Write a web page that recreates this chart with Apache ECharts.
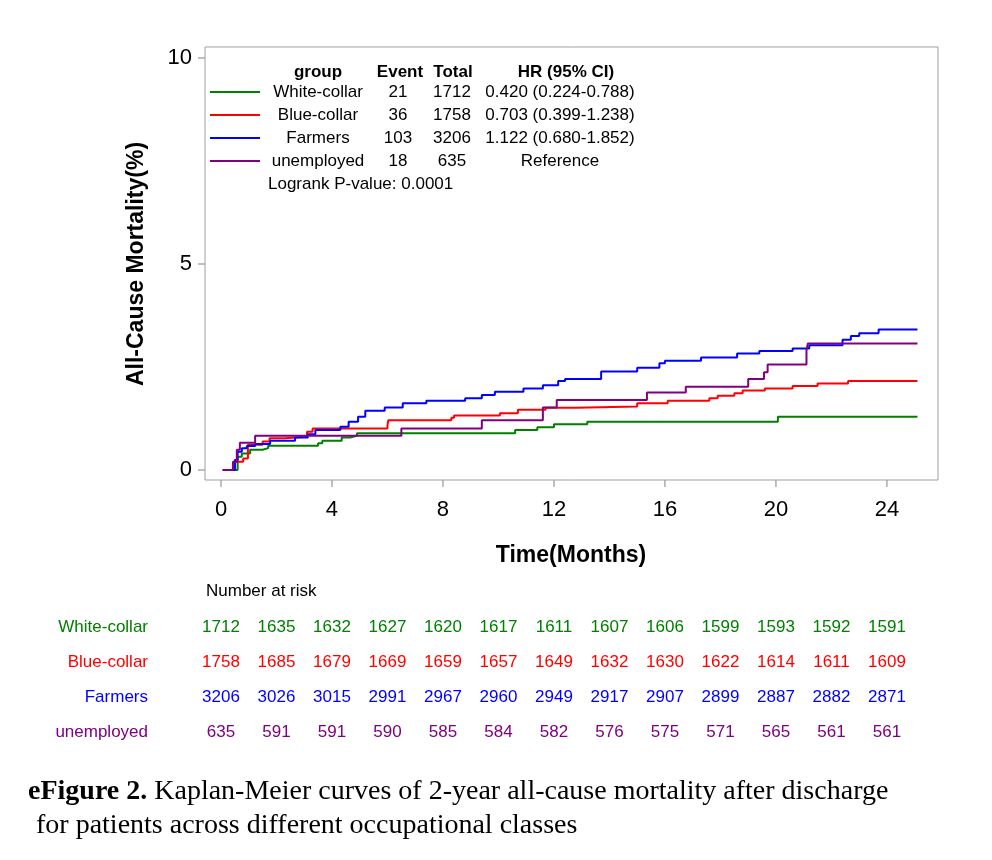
<!DOCTYPE html>
<html lang="en">
<head>
    <meta charset="UTF-8">
    <title>KM curves</title>
    <style>
        body { margin: 0; background: #fff; }
        #chart { width: 992px; height: 860px; }
    </style>
</head>
<body>
    <div id="chart"></div>
</body>
<script type="text/javascript" src="https://cdn.jsdelivr.net/npm/echarts@6/dist/echarts.min.js"></script>
<script type="text/javascript">
    // 曲线数据 [月, 累计死亡率%]
    var whiteCollar = [[0.39, 0], [0.6, 0.32], [0.75, 0.40], [1.05, 0.49], [1.5, 0.53], [1.7, 0.59], [3.5, 0.65], [3.65, 0.71], [4.35, 0.79], [4.65, 0.83], [4.9, 0.89], [10.6, 0.97], [11.4, 1.04], [12.0, 1.11], [13.2, 1.17], [20.07, 1.29], [25.1, 1.29]];
    var blueCollar = [[0.4, 0], [0.5, 0.2], [0.8, 0.28], [0.97, 0.61], [1.5, 0.69], [1.75, 0.77], [2.3, 0.81], [3.1, 0.93], [3.3, 1.01], [6.0, 1.09], [6.03, 1.21], [8.3, 1.27], [8.4, 1.32], [10.05, 1.38], [10.7, 1.46], [11.7, 1.51], [12.8, 1.54], [15.0, 1.62], [16.1, 1.68], [17.6, 1.74], [17.9, 1.80], [18.5, 1.86], [18.8, 1.93], [19.6, 1.98], [20.6, 2.04], [21.5, 2.10], [22.6, 2.16], [25.1, 2.16]];
    var farmers = [[0.4, 0], [0.5, 0.24], [0.6, 0.44], [0.75, 0.53], [0.93, 0.58], [1.23, 0.63], [1.77, 0.71], [2.67, 0.79], [3.13, 0.87], [3.4, 0.97], [4.3, 1.05], [4.6, 1.17], [4.94, 1.29], [5.2, 1.44], [5.9, 1.52], [6.55, 1.62], [7.4, 1.68], [8.8, 1.74], [9.4, 1.82], [9.87, 1.90], [10.9, 1.98], [11.6, 2.06], [12.15, 2.16], [12.4, 2.21], [13.7, 2.39], [15.0, 2.48], [15.8, 2.59], [16.0, 2.65], [17.3, 2.73], [18.6, 2.83], [19.4, 2.89], [20.6, 2.95], [21.2, 3.03], [22.4, 3.16], [22.7, 3.25], [23.0, 3.32], [23.7, 3.41], [25.1, 3.41]];
    var unemployed = [[0.05, 0], [0.43, 0.2], [0.57, 0.49], [0.68, 0.66], [1.23, 0.83], [6.5, 1.01], [9.4, 1.21], [11.6, 1.52], [12.1, 1.70], [15.35, 1.88], [16.75, 2.02], [19.0, 2.21], [19.57, 2.37], [19.7, 2.56], [21.1, 2.91], [21.15, 3.07], [25.1, 3.07]];

    var groupNames = ['White-collar', 'Blue-collar', 'Farmers', 'unemployed'];
    var groupColors = ['#008000', '#ff0000', '#0000ff', '#800080'];
    var events = ['21', '36', '103', '18'];
    var totals = ['1712', '1758', '3206', '635'];
    var hrText = ['0.420 (0.224-0.788)', '0.703 (0.399-1.238)', '1.122 (0.680-1.852)', 'Reference'];
    var xTicks = [0, 4, 8, 12, 16, 20, 24];
    var yTicks = [0, 5, 10];
    var riskMonths = [0, 2, 4, 6, 8, 10, 12, 14, 16, 18, 20, 22, 24];
    var riskWhite = [1712, 1635, 1632, 1627, 1620, 1617, 1611, 1607, 1606, 1599, 1593, 1592, 1591];
    var riskBlue = [1758, 1685, 1679, 1669, 1659, 1657, 1649, 1632, 1630, 1622, 1614, 1611, 1609];
    var riskFarm = [3206, 3026, 3015, 2991, 2967, 2960, 2949, 2917, 2907, 2899, 2887, 2882, 2871];
    var riskUnemp = [635, 591, 591, 590, 585, 584, 582, 576, 575, 571, 565, 561, 561];

    var curves = [whiteCollar, blueCollar, farmers, unemployed];
    var riskRows = [riskWhite, riskBlue, riskFarm, riskUnemp];
    var FONT = 'Liberation Sans, Arial, sans-serif';

    var chart = echarts.init(document.getElementById('chart'));

    function txt(x, y, s, font, align, color) {
        return { type: 'text', x: x, y: y, style: { text: s, font: font, textAlign: align || 'left', textVerticalAlign: 'middle', fill: color || '#000' } };
    }

    function buildGraphics() {
        var g = [];
        var L = 205, R = 938, T = 47, B = 480;
        // 外框
        g.push({ type: 'rect', shape: { x: L, y: T, width: R - L, height: B - T }, style: { fill: 'none', stroke: '#a0a0a0', lineWidth: 1 }, z: 10 });
        // 刻度
        xTicks.forEach(function (v) {
            var px = chart.convertToPixel({ xAxisIndex: 0 }, v);
            g.push({ type: 'line', shape: { x1: px, y1: B, x2: px, y2: B + 7 }, style: { stroke: '#808080', lineWidth: 1 } });
            g.push(txt(px, B + 30, String(v), '22px ' + FONT, 'center'));
        });
        yTicks.forEach(function (v) {
            var py = chart.convertToPixel({ yAxisIndex: 0 }, v);
            g.push({ type: 'line', shape: { x1: L - 7, y1: py, x2: L, y2: py }, style: { stroke: '#808080', lineWidth: 1 } });
            g.push(txt(L - 13, py, String(v), '22px ' + FONT, 'right'));
        });
        g.push(txt(571, 556, 'Time(Months)', 'bold 23px ' + FONT, 'center'));
        g.push({ type: 'text', x: 137, y: 264, rotation: Math.PI / 2, style: { text: 'All-Cause Mortality(%)', font: 'bold 23px ' + FONT, textAlign: 'center', textVerticalAlign: 'middle', fill: '#000' } });
        // 图例表头
        var hy = 72, lf = '17px ' + FONT, bf = 'bold 17px ' + FONT;
        g.push(txt(318, hy, 'group', bf, 'center'));
        g.push(txt(400, hy, 'Event', bf, 'center'));
        g.push(txt(453, hy, 'Total', bf, 'center'));
        g.push(txt(566, hy, 'HR (95% CI)', bf, 'center'));
        for (var i = 0; i < groupNames.length; i++) {
            var y = 92 + i * 23;
            g.push({ type: 'line', shape: { x1: 210, y1: y, x2: 260, y2: y }, style: { stroke: groupColors[i], lineWidth: 2 } });
            g.push(txt(318, y, groupNames[i], lf, 'center'));
            g.push(txt(398, y, events[i], lf, 'center'));
            g.push(txt(452, y, totals[i], lf, 'center'));
            g.push(txt(560, y, hrText[i], lf, 'center'));
        }
        g.push(txt(268, 184, 'Logrank P-value: 0.0001', lf));
        // 风险人数表
        g.push(txt(206, 591, 'Number at risk', lf));
        for (var r = 0; r < riskRows.length; r++) {
            var ry = 627 + r * 35;
            g.push(txt(148, ry, groupNames[r], lf, 'right', groupColors[r]));
            for (var c = 0; c < riskMonths.length; c++) {
                var px = chart.convertToPixel({ xAxisIndex: 0 }, riskMonths[c]);
                g.push(txt(px, ry, String(riskRows[r][c]), lf, 'center', groupColors[r]));
            }
        }
        // 图注
        g.push({ type: 'text', x: 28, y: 792, style: { text: '{b|eFigure 2.} Kaplan-Meier curves of 2-year all-cause mortality after discharge', rich: { b: { font: 'bold 28px Liberation Serif, serif', fill: '#000' } }, font: '28px Liberation Serif, serif', textVerticalAlign: 'middle', fill: '#000' } });
        g.push(txt(36, 826, 'for patients across different occupational classes', '28px Liberation Serif, serif'));
        return g;
    }

    var option = {
        animation: false,
        grid: { left: 221, top: 58, width: 717, height: 412 },
        xAxis: {
            type: 'value', min: 0, max: 25.84, interval: 4,
            axisLine: { show: false }, axisTick: { show: false },
            axisLabel: { show: false }, splitLine: { show: false }
        },
        yAxis: {
            type: 'value', min: 0, max: 10, interval: 5,
            axisLine: { show: false }, axisTick: { show: false },
            axisLabel: { show: false }, splitLine: { show: false }
        },
        series: curves.map(function (d, i) {
            return {
                type: 'line', name: groupNames[i], data: d, step: 'end',
                showSymbol: false, lineStyle: { color: groupColors[i], width: 2 }
            };
        })
    };
    chart.setOption(option);
    chart.setOption({ graphic: buildGraphics() });
</script>
</html>
